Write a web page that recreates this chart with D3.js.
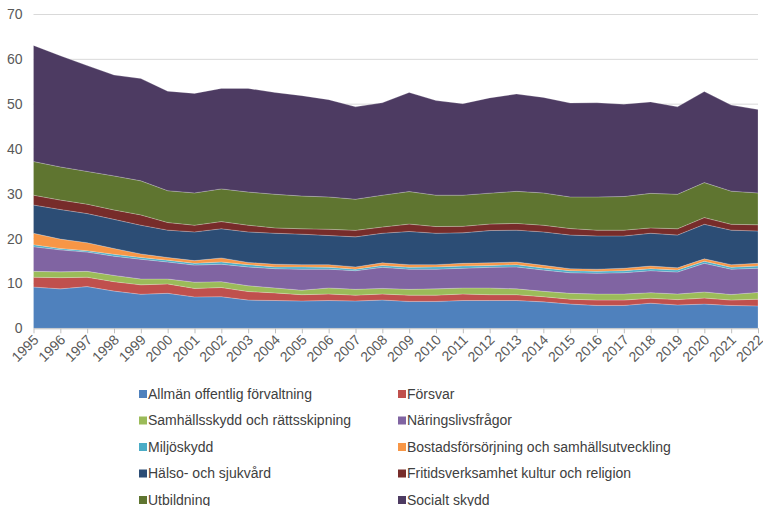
<!DOCTYPE html>
<html lang="sv">
<head>
<meta charset="UTF-8">
<title>Utgifter per funktion</title>
<script src="https://d3js.org/d3.v7.min.js"></script>
<style>
  body { margin: 0; background: #fff; }
  text { font-family: "Liberation Sans", Arial, sans-serif; fill: #595959; }
</style>
</head>
<body>
<script>
var years = [1995, 1996, 1997, 1998, 1999, 2000, 2001, 2002, 2003, 2004, 2005, 2006, 2007, 2008,
             2009, 2010, 2011, 2012, 2013, 2014, 2015, 2016, 2017, 2018, 2019, 2020, 2021, 2022];

var categories = ["Allmän offentlig förvaltning", "Försvar", "Samhällsskydd och rättsskipning",
  "Näringslivsfrågor", "Miljöskydd", "Bostadsförsörjning och samhällsutveckling",
  "Hälso- och sjukvård", "Fritidsverksamhet kultur och religion", "Utbildning", "Socialt skydd"];

var colors = ["#4f81bd", "#c0504d", "#9bbb59", "#8064a2", "#4bacc6", "#f79646",
              "#2c4d75", "#772c2a", "#5f7530", "#4d3b62"];

var yTicks = [0, 10, 20, 30, 40, 50, 60, 70];

// andel av BNP
var allman = [9.2, 8.8, 9.3, 8.3, 7.6, 7.8, 7.0, 7.05, 6.3, 6.2, 6.1, 6.2, 6.1, 6.3,
              6.0, 6.0, 6.2, 6.2, 6.2, 5.9, 5.4, 5.1, 5.1, 5.6, 5.2, 5.4, 5.1, 5.0];
var forsvar = [2.2, 2.5, 2.1, 2.1, 2.1, 2.1, 1.9, 2.05, 1.9, 1.7, 1.4, 1.45, 1.3, 1.35,
               1.4, 1.4, 1.45, 1.3, 1.3, 1.15, 1.1, 1.2, 1.2, 1.1, 1.2, 1.35, 1.2, 1.5];
var samhall = [1.3, 1.3, 1.3, 1.4, 1.3, 1.1, 1.4, 1.3, 1.3, 1.1, 1.0, 1.35, 1.3, 1.25,
               1.3, 1.4, 1.35, 1.5, 1.3, 1.2, 1.3, 1.35, 1.35, 1.25, 1.25, 1.35, 1.25, 1.5];
var naring = [5.5, 4.9, 4.3, 4.3, 4.4, 3.8, 3.8, 3.9, 4.2, 4.3, 4.7, 4.2, 4.15, 4.7,
              4.5, 4.4, 4.4, 4.6, 4.9, 4.75, 4.6, 4.65, 4.75, 4.9, 4.9, 6.4, 5.65, 5.4];
var miljo = [0.45, 0.3, 0.3, 0.4, 0.4, 0.4, 0.4, 0.5, 0.5, 0.4, 0.5, 0.4, 0.35, 0.4,
             0.4, 0.5, 0.5, 0.4, 0.5, 0.45, 0.45, 0.4, 0.45, 0.45, 0.45, 0.45, 0.4, 0.5];
var bostad = [2.55, 2.1, 1.8, 1.3, 0.8, 0.6, 0.6, 0.9, 0.5, 0.6, 0.5, 0.6, 0.5, 0.6,
              0.6, 0.5, 0.6, 0.6, 0.6, 0.6, 0.45, 0.5, 0.55, 0.6, 0.5, 0.55, 0.6, 0.6];
var halso = [6.3, 6.6, 6.5, 6.5, 6.4, 6.1, 6.4, 6.5, 6.8, 6.9, 6.8, 6.5, 6.7, 6.6,
             7.4, 7.0, 6.8, 7.2, 7.1, 7.45, 7.5, 7.4, 7.2, 7.3, 7.3, 7.7, 7.7, 7.2];
var fritid = [2.2, 2.1, 2.1, 2.1, 2.3, 1.7, 1.5, 1.6, 1.5, 1.2, 1.2, 1.4, 1.45, 1.4,
              1.65, 1.5, 1.45, 1.45, 1.5, 1.5, 1.45, 1.3, 1.3, 1.2, 1.4, 1.5, 1.3, 1.4];
var utbildning = [7.5, 7.4, 7.3, 7.6, 7.6, 7.1, 7.2, 7.3, 7.4, 7.5, 7.3, 7.2, 6.95, 7.1,
                  7.25, 7.0, 6.95, 6.9, 7.15, 7.2, 7.05, 7.4, 7.5, 7.7, 7.7, 7.8, 7.4, 7.1];
var socialt = [25.9, 24.8, 23.6, 22.5, 22.8, 22.2, 22.2, 22.4, 23.1, 22.7, 22.4, 21.7, 20.6, 20.6,
               22.1, 21.1, 20.4, 21.25, 21.7, 21.3, 20.95, 21.0, 20.6, 20.4, 19.5, 20.3, 19.2, 18.6];

var series = [allman, forsvar, samhall, naring, miljo, bostad, halso, fritid, utbildning, socialt];

var width = 763, height = 506;

var svg = d3.select("body").append("svg")
    .attr("width", width)
    .attr("height", height);

var x = d3.scaleLinear().domain([1995, 2022]).range([33.5, 758]);
var y = d3.scaleLinear().domain([0, 70]).range([328.3, 14.5]);

// tabell för d3.stack
var table = years.map(function (yr, i) {
    var row = { year: yr };
    categories.forEach(function (c, k) { row[c] = series[k][i]; });
    return row;
});

var stacked = d3.stack().keys(categories)(table);

// rutnät
svg.append("g")
    .selectAll("line")
    .data(yTicks.slice(1))
    .enter()
    .append("line")
    .attr("x1", x(1995))
    .attr("x2", x(2022))
    .attr("y1", function (d) { return y(d); })
    .attr("y2", function (d) { return y(d); })
    .attr("stroke", "#d9d9d9")
    .attr("stroke-width", 1);

var area = d3.area()
    .x(function (d) { return x(d.data.year); })
    .y0(function (d) { return y(d[0]); })
    .y1(function (d) { return y(d[1]); });

svg.append("g")
    .selectAll("path")
    .data(stacked)
    .enter()
    .append("path")
    .attr("d", area)
    .attr("fill", function (d, i) { return colors[i]; })
    .attr("stroke", "rgba(255,255,255,0.35)")
    .attr("stroke-width", 0.6);

// y-axel
var yAxis = d3.axisLeft(y).tickValues(yTicks).tickSize(0).tickPadding(11);
var gy = svg.append("g")
    .attr("transform", "translate(" + x(1995) + ",0)")
    .call(yAxis);
gy.select(".domain").remove();
gy.selectAll("text")
    .style("font-size", "14px")
    .style("fill", "#595959");

// x-axel
var xAxis = d3.axisBottom(x).tickValues(years).tickFormat(d3.format("d")).tickSize(5).tickSizeOuter(0);
var gx = svg.append("g")
    .attr("transform", "translate(0," + y(0) + ")")
    .call(xAxis);
gx.select(".domain").attr("stroke", "#bfbfbf");
gx.selectAll(".tick line").attr("stroke", "#bfbfbf");
gx.selectAll("text")
    .style("font-size", "14px")
    .style("fill", "#595959")
    .style("text-anchor", "end")
    .attr("x", 0)
    .attr("y", 0)
    .attr("dy", "0.35em")
    .attr("transform", "translate(2,9) rotate(-45)");

// teckenförklaring
var legend = svg.append("g");
var item = legend.selectAll("g")
    .data(categories)
    .enter()
    .append("g")
    .attr("transform", function (d, i) {
        var col = i % 2, row = Math.floor(i / 2);
        return "translate(" + (col === 0 ? 139 : 398) + "," + (394 + row * 26.5) + ")";
    });

item.append("rect")
    .attr("x", 0)
    .attr("y", -4)
    .attr("width", 8)
    .attr("height", 8)
    .attr("fill", function (d, i) { return colors[i]; });

item.append("text")
    .attr("x", 9)
    .attr("y", 0)
    .attr("dy", "0.35em")
    .style("font-size", "14px")
    .style("fill", "#404040")
    .text(function (d) { return d; });
</script>
</body>
</html>
